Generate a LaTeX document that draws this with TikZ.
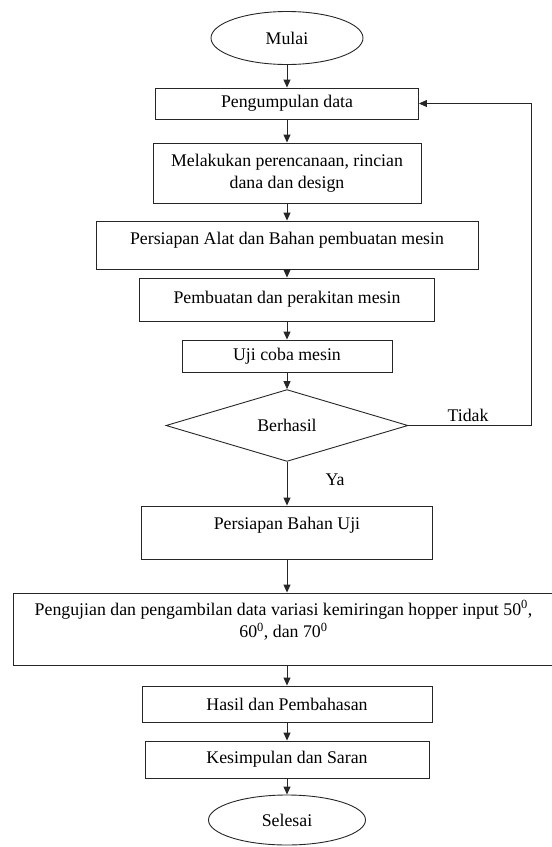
\documentclass[tikz,border=0pt]{standalone}
\usepackage{fontspec}
\setmainfont{Liberation Serif}
\usetikzlibrary{arrows.meta,positioning,shapes.geometric}

\begin{document}
\begin{tikzpicture}[
    x=1pt, y=-1pt,
    >={Triangle[length=8pt,width=7pt]},
    every node/.style={font=\fontsize{17.8}{22.5}\selectfont},
    garis/.style={line width=0.9pt, draw=black!85},
    kotak/.style={garis, rectangle, inner sep=0pt, align=center},
    terminal/.style={garis, ellipse, inner sep=0pt},
    keputusan/.style={garis, diamond, inner sep=0pt},
    panah/.style={->, garis}
  ]
    \useasboundingbox (0,0) rectangle (552,847);

    % Tahap persiapan
    \node[terminal, minimum width=152, minimum height=53] (mulai) at (287,38) {Mulai};
    \node[kotak, minimum width=263, minimum height=31] (kumpul) at (287,103.5) {Pengumpulan data};
    \node[kotak, minimum width=268, minimum height=60] (rencana) at (287,173)
        {Melakukan perencanaan, rincian\\dana dan design};
    \node[kotak, minimum width=382, text height=23, text depth=25] (alat) at (287,245)
        {Persiapan Alat dan Bahan pembuatan mesin};
    \node[kotak, minimum width=295, minimum height=43] (rakit) at (287,299.5) {Pembuatan dan perakitan mesin};
    \node[kotak, minimum width=210, minimum height=32] (uji) at (287,356) {Uji coba mesin};
    \node[keputusan, minimum width=242, minimum height=67] (berhasil) at (287,425.5) {Berhasil};
    \coordinate (balik) at (531,425.5);

    % Tahap pengujian
    \node[kotak, minimum width=291, text height=23, text depth=30] (bahan) at (287,532.5) {Persiapan Bahan Uji};
    \node[kotak, minimum width=541, text height=44.5, text depth=27.5] (pengujian) at (283.5,629)
        {Pengujian dan pengambilan data variasi kemiringan hopper input 50\textsuperscript{0},\\
         60\textsuperscript{0}, dan 70\textsuperscript{0}};
    \node[kotak, minimum width=290, minimum height=36] (hasil) at (287,704) {Hasil dan Pembahasan};
    \node[kotak, minimum width=284, minimum height=37] (simpul) at (287,759.5) {Kesimpulan dan Saran};
    \node[terminal, minimum width=157, minimum height=50] (selesai) at (287,820) {Selesai};

    % Label cabang
    \node (tidak) at (468,415) {Tidak};
    \node (ya) at (335,480) {Ya};

    % Panah
    \draw[panah] (mulai) -- (kumpul);
    \draw[panah] (kumpul) -- (rencana);
    \draw[panah] (rencana) -- (alat);
    \draw[panah] (alat) -- (rakit);
    \draw[panah] (rakit) -- (uji);
    \draw[panah] (uji) -- (berhasil);
    \draw[panah] (berhasil.east) -- (balik) |- (kumpul.east);
    \draw[panah] (berhasil) -- (bahan);
    \draw[panah] (bahan) -- (bahan |- pengujian.north);
    \draw[panah] (hasil |- pengujian.south) -- (hasil);
    \draw[panah] (hasil) -- (simpul);
    \draw[panah] (simpul) -- (selesai);

\end{tikzpicture}
\end{document}
